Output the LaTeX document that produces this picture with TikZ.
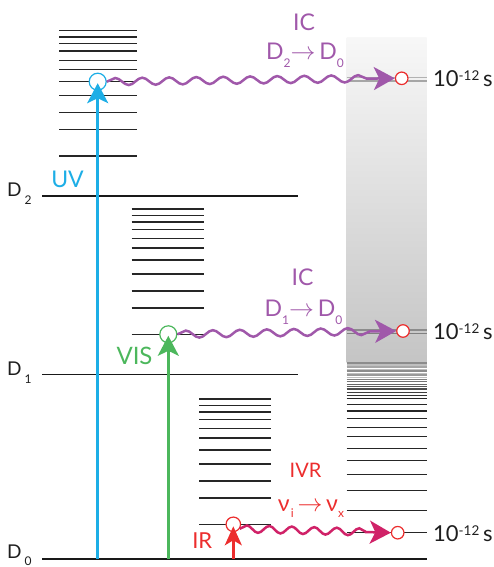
\documentclass[tikz,border=0pt]{standalone}
\usepackage{fontspec}
\setmainfont{Lato}
\usetikzlibrary{decorations.pathmorphing,arrows.meta}
\definecolor{cUV}{RGB}{29,174,230}
\definecolor{cVIS}{RGB}{76,183,92}
\definecolor{cPur}{RGB}{160,88,170}
\definecolor{cRed}{RGB}{236,45,45}
\definecolor{cIVR}{RGB}{208,34,104}
\definecolor{cTxt}{RGB}{30,30,30}
\newcommand{\lowsub}[2]{\raisebox{-#1}{\fontsize{12}{12}\selectfont #2}}
\begin{document}
\begin{tikzpicture}[x=1pt,y=-1pt,
  level/.style={line width=1.1pt, draw=black!85},
  dlevel/.style={line width=1.3pt, draw=black!90},
  excirc/.style={circle, fill=white, line width=1.2pt, minimum size=17pt, inner sep=0pt},
  tgt/.style={circle, draw=cRed, fill=white, line width=1.2pt, minimum size=12.5pt, inner sep=0pt},
  wave/.style={line width=2.5pt, decorate, decoration={snake, segment length=27pt, amplitude=3.6pt, post length=20pt}},
  exarrow/.style={line width=2.5pt, shorten >=1.5pt, -{Stealth[length=20pt,width=21pt,inset=5pt]}},
  wavetip/.style={-{Stealth[length=21pt,width=23pt,inset=5.5pt]}},
  lbl/.style={inner sep=0pt, font=\fontsize{23}{23}\selectfont},
  dlbl/.style={inner sep=0pt, anchor=base west, text=cTxt, font=\fontsize{19}{19}\selectfont},
  tlbl/.style={inner sep=0pt, anchor=base west, text=cTxt, font=\fontsize{22}{22}\selectfont}
]
\useasboundingbox (0,0) rectangle (493,567);

% gray column
\shade[top color=black!3, bottom color=black!23] (346.7,38) rectangle (426.7,362);
\draw[line width=1.6pt, black!30] (346.7,77.5) -- (426.7,77.5);
\draw[line width=1.4pt, black!35] (346.7,81) -- (426.7,81);
\draw[line width=1.6pt, black!45] (346.7,330) -- (426.7,330);
\draw[line width=1.4pt, black!50] (346.7,333.3) -- (426.7,333.3);

% dense levels below column
\foreach \yy/\cc in {363/45,365/25,367/35,369.3/25,371/45,373.3/25,375/40,377.3/25,379.3/50,381.7/55,384.3/60,386.7/65,389/70,392.3/75,395.7/80,398.3/85,404.3/85,411/85,418.3/85,427.5/85,436.7/85,448.3/85,460.3/85,474.3/85,490.3/85,510.3/85,532.7/85}
  \draw[line width=1.1pt, black!\cc] (346.7,\yy) -- (426.7,\yy);

% vibrational stacks
\foreach \bx/\ex/\by in {59.3/136.7/156, 131.7/204.3/334.3, 199.3/270.7/524.3}
  \foreach \o in {0,26.3,43.3,60.3,74.3,86.3,95.7,105,112.3,119,125.3}
    \draw[level] (\bx,\by-\o) -- (\ex,\by-\o);

% electronic levels
\draw[dlevel] (42.3,196) -- (297.7,196);
\draw[dlevel] (42.3,374.5) -- (297.7,374.5);
\draw[dlevel] (42.3,559) -- (426.7,559);

\node[dlbl] (d2) at (7,196) {D\kern3pt\lowsub{8pt}{2}};
\node[dlbl] (d1) at (7,375) {D\kern3pt\lowsub{8pt}{1}};
\node[dlbl] (d0) at (7,558.5) {D\kern3pt\lowsub{6.5pt}{0}};

% circles
\node[excirc, draw=cUV] (uvc) at (97.7,81.7) {};
\node[excirc, draw=cVIS] (visc) at (168.3,334.3) {};
\node[excirc, draw=cRed, minimum size=14.5pt] (irc) at (233.3,524.3) {};
\node[tgt] (t1) at (401.7,78.3) {};
\node[tgt] (t2) at (403,331) {};
\node[tgt] (t3) at (397.7,532.7) {};

\coordinate (uv0) at (97.7,559);
\coordinate (vis0) at (168.3,559);
\coordinate (ir0) at (233.3,559);

% excitation arrows
\draw[exarrow, cUV] (uv0) -- (uvc.center);
\draw[exarrow, cVIS] (vis0) -- (visc.center);
\draw[line width=2.5pt, cRed, shorten >=2pt, -{Stealth[length=19pt,width=17pt,inset=5pt]}] (ir0) -- (irc.center);

% wavy relaxation
\draw[wave, wavetip, cPur] (uvc.east) -- (t1.west);
\draw[wave, wavetip, cPur] (visc.east) -- (t2.west);
\draw[wave, wavetip, cIVR, decoration={segment length=22.5pt}] (irc.-35) -- (t3.west);

% labels
\node[lbl, anchor=base, text=cUV] (uvl) at (67.5,187) {UV};
\node[lbl, anchor=base, text=cVIS, font=\fontsize{24}{24}\selectfont] (visl) at (134.5,364.5) {VIS};
\node[lbl, anchor=base, text=cRed, font=\fontsize{22}{22}\selectfont] (irl) at (202.3,548.3) {IR};
\node[lbl, anchor=base, text=cRed, font=\fontsize{20}{20}\selectfont] (ivrl) at (305.5,477.7) {IVR};
\node[lbl, anchor=base, text=cRed] (nul) at (311,511.7) {ν\kern1pt\lowsub{6pt}{i}\,$\rightarrow$\,ν\lowsub{6pt}{x}};

\node[lbl, anchor=base, text=cPur] (ic1) at (304,30.5) {IC};
\node[lbl, anchor=base, text=cPur] (ic1b) at (305,60) {D\lowsub{8pt}{2}$\rightarrow$\,D\lowsub{8pt}{0}};
\node[lbl, anchor=base, text=cPur] (ic2) at (302.5,285) {IC};
\node[lbl, anchor=base, text=cPur] (ic2b) at (303.5,316.7) {D\lowsub{8pt}{1}$\rightarrow$\,D\lowsub{8pt}{0}};

\node[tlbl] (ts1) at (433,87) {10\raisebox{6pt}{\fontsize{13.5}{13.5}\selectfont -12}\,s};
\node[tlbl] (ts2) at (433,339) {10\raisebox{6pt}{\fontsize{13.5}{13.5}\selectfont -12}\,s};
\node[tlbl] (ts3) at (433,541.5) {10\raisebox{6pt}{\fontsize{13.5}{13.5}\selectfont -12}\,s};
\end{tikzpicture}
\end{document}
